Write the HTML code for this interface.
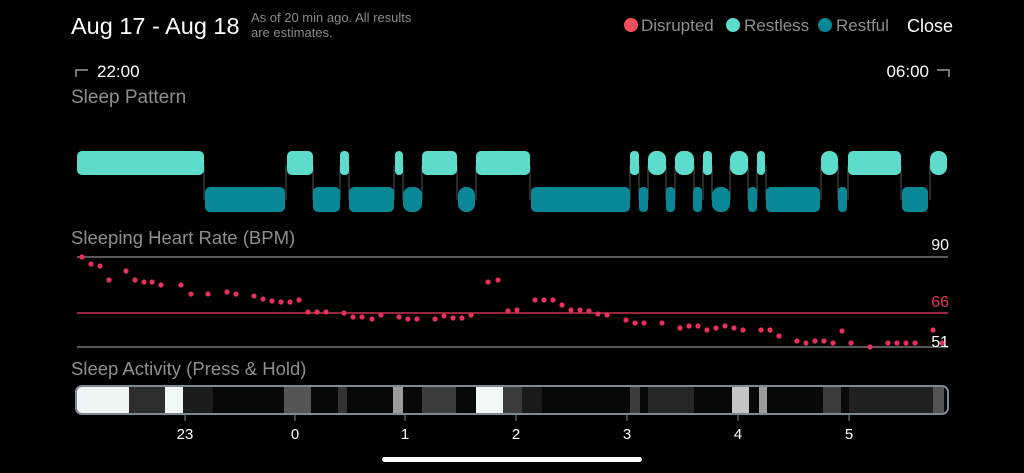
<!DOCTYPE html>
<html><head><meta charset="utf-8"><style>
html,body{margin:0;padding:0;background:#000;width:1024px;height:473px;overflow:hidden}
svg{display:block}
text{font-family:"Liberation Sans",sans-serif}
</style></head><body>
<svg width="1024" height="473" viewBox="0 0 1024 473" xmlns="http://www.w3.org/2000/svg">
<text x="71" y="34" font-size="23.5" fill="#fff">Aug 17 - Aug 18</text>
<text x="251" y="22" font-size="13" fill="#8a8a8a">As of 20 min ago. All results</text>
<text x="251" y="37" font-size="13" fill="#8a8a8a">are estimates.</text>
<circle cx="631" cy="25" r="7" fill="#f24d5a"/><text x="641" y="31" font-size="17" fill="#8e8e8e">Disrupted</text>
<circle cx="733" cy="25" r="7" fill="#5ddccb"/><text x="744" y="31" font-size="17" fill="#8e8e8e">Restless</text>
<circle cx="825" cy="25" r="7" fill="#0a8796"/><text x="836" y="31" font-size="17" fill="#8e8e8e">Restful</text>
<text x="907" y="32" font-size="18" fill="#fff">Close</text>
<path d="M76 77V70H88" stroke="#999" stroke-width="1.5" fill="none"/>
<text x="97" y="77" font-size="17" fill="#fff">22:00</text>
<text x="929" y="77" font-size="17" fill="#fff" text-anchor="end">06:00</text>
<path d="M937 70H949V77" stroke="#999" stroke-width="1.5" fill="none"/>
<text x="71" y="103" font-size="19" fill="#8e8e8e">Sleep Pattern</text>
<g stroke="#555" stroke-width="1">
<path d="M204 165V200M286 165V200M313 165V200M340 165V200M349 165V200M394 165V200M403 165V200M422 165V200M457 165V200M476 165V200M530 165V200M630 165V200M639 165V200M648 165V200M666 165V200M675 165V200M694 165V200M703 165V200M712 165V200M730 165V200M748 165V200M757 165V200M766 165V200M821 165V200M838 165V200M848 165V200M901 165V200M930 165V200"/>
</g>
<g fill="#5ddccb">
<rect x="77" y="151" width="127" height="24" rx="5"/><rect x="287" y="151" width="26" height="24" rx="5"/>
<rect x="340" y="151" width="9" height="24" rx="4"/><rect x="395" y="151" width="8" height="24" rx="4"/>
<rect x="422" y="151" width="35" height="24" rx="5"/><rect x="476" y="151" width="54" height="24" rx="5"/>
<rect x="630" y="151" width="9" height="24" rx="4"/><rect x="648" y="151" width="18" height="24" rx="8"/>
<rect x="675" y="151" width="19" height="24" rx="8"/><rect x="703" y="151" width="9" height="24" rx="4"/>
<rect x="730" y="151" width="18" height="24" rx="8"/><rect x="757" y="151" width="8" height="24" rx="4"/>
<rect x="821" y="151" width="17" height="24" rx="8"/><rect x="848" y="151" width="53" height="24" rx="5"/>
<rect x="930" y="151" width="17" height="24" rx="8"/>
</g>
<g fill="#0a8796">
<rect x="205" y="187" width="80" height="25" rx="5"/><rect x="313" y="187" width="27" height="25" rx="5"/>
<rect x="349" y="187" width="45" height="25" rx="5"/><rect x="403" y="187" width="19" height="25" rx="8"/>
<rect x="458" y="187" width="17" height="25" rx="8"/><rect x="531" y="187" width="99" height="25" rx="5"/>
<rect x="639" y="187" width="9" height="25" rx="4"/><rect x="666" y="187" width="9" height="25" rx="4"/>
<rect x="693" y="187" width="9" height="25" rx="4"/><rect x="712" y="187" width="18" height="25" rx="8"/>
<rect x="748" y="187" width="9" height="25" rx="4"/><rect x="766" y="187" width="54" height="25" rx="5"/>
<rect x="838" y="187" width="9" height="25" rx="4"/><rect x="902" y="187" width="26" height="25" rx="5"/>
</g>
<text x="71" y="244" font-size="18.5" fill="#8e8e8e">Sleeping Heart Rate (BPM)</text>
<text x="949" y="250" font-size="16" fill="#fff" text-anchor="end">90</text>
<text x="949" y="307" font-size="16" fill="#e8315a" text-anchor="end">66</text>
<line x1="77" y1="257" x2="948" y2="257" stroke="#777" stroke-width="1.5"/>
<line x1="77" y1="313" x2="948" y2="313" stroke="#c8324f" stroke-width="1.5"/>
<line x1="77" y1="347" x2="948" y2="347" stroke="#777" stroke-width="1.5"/>
<text x="949" y="347" font-size="16" fill="#fff" text-anchor="end">51</text>
<g fill="#e8315a">
<circle cx="82" cy="257" r="2.6"/><circle cx="91" cy="264" r="2.6"/><circle cx="100" cy="266" r="2.6"/><circle cx="109" cy="280" r="2.6"/><circle cx="126" cy="271" r="2.6"/><circle cx="135" cy="280" r="2.6"/><circle cx="144" cy="282" r="2.6"/><circle cx="152" cy="282" r="2.6"/><circle cx="161" cy="285" r="2.6"/><circle cx="181" cy="285" r="2.6"/><circle cx="191" cy="294" r="2.6"/><circle cx="208" cy="294" r="2.6"/><circle cx="227" cy="292" r="2.6"/><circle cx="236" cy="294" r="2.6"/><circle cx="254" cy="296" r="2.6"/><circle cx="263" cy="299" r="2.6"/><circle cx="272" cy="301" r="2.6"/><circle cx="281" cy="302" r="2.6"/><circle cx="290" cy="302" r="2.6"/><circle cx="299" cy="300" r="2.6"/><circle cx="308" cy="312" r="2.6"/><circle cx="317" cy="312" r="2.6"/><circle cx="326" cy="312" r="2.6"/><circle cx="344" cy="313" r="2.6"/><circle cx="353" cy="317" r="2.6"/><circle cx="362" cy="317" r="2.6"/><circle cx="372" cy="319" r="2.6"/><circle cx="381" cy="315" r="2.6"/><circle cx="399" cy="317" r="2.6"/><circle cx="408" cy="319" r="2.6"/><circle cx="417" cy="319" r="2.6"/><circle cx="435" cy="319" r="2.6"/><circle cx="444" cy="316" r="2.6"/><circle cx="453" cy="318" r="2.6"/><circle cx="462" cy="318" r="2.6"/><circle cx="471" cy="315" r="2.6"/><circle cx="488" cy="282" r="2.6"/><circle cx="498" cy="280" r="2.6"/><circle cx="508" cy="311" r="2.6"/><circle cx="517" cy="310" r="2.6"/><circle cx="535" cy="300" r="2.6"/><circle cx="544" cy="300" r="2.6"/><circle cx="553" cy="300" r="2.6"/><circle cx="562" cy="305" r="2.6"/><circle cx="571" cy="310" r="2.6"/><circle cx="580" cy="310" r="2.6"/><circle cx="589" cy="311" r="2.6"/><circle cx="598" cy="314" r="2.6"/><circle cx="607" cy="315" r="2.6"/><circle cx="626" cy="320" r="2.6"/><circle cx="635" cy="323" r="2.6"/><circle cx="644" cy="323" r="2.6"/><circle cx="662" cy="323" r="2.6"/><circle cx="680" cy="328" r="2.6"/><circle cx="689" cy="326" r="2.6"/><circle cx="698" cy="326" r="2.6"/><circle cx="707" cy="330" r="2.6"/><circle cx="716" cy="328" r="2.6"/><circle cx="725" cy="326" r="2.6"/><circle cx="734" cy="328" r="2.6"/><circle cx="743" cy="330" r="2.6"/><circle cx="761" cy="330" r="2.6"/><circle cx="770" cy="330" r="2.6"/><circle cx="779" cy="336" r="2.6"/><circle cx="797" cy="341" r="2.6"/><circle cx="806" cy="343" r="2.6"/><circle cx="815" cy="341" r="2.6"/><circle cx="824" cy="341" r="2.6"/><circle cx="833" cy="343" r="2.6"/><circle cx="842" cy="331" r="2.6"/><circle cx="851" cy="343" r="2.6"/><circle cx="870" cy="347" r="2.6"/><circle cx="888" cy="343" r="2.6"/><circle cx="897" cy="343" r="2.6"/><circle cx="906" cy="343" r="2.6"/><circle cx="915" cy="343" r="2.6"/><circle cx="933" cy="330" r="2.6"/><circle cx="942" cy="343" r="2.6"/>
</g>
<text x="71" y="375" font-size="18.5" fill="#8e8e8e">Sleep Activity (Press &amp; Hold)</text>
<clipPath id="c"><rect x="76" y="386" width="872" height="28" rx="6"/></clipPath>
<g clip-path="url(#c)">
<rect x="76" y="386" width="872" height="28" fill="#080808"/>
<rect x="76" y="386" width="53" height="28" fill="#eef5f5"/>
<rect x="129" y="386" width="36" height="28" fill="#2e2e2e"/>
<rect x="165" y="386" width="18" height="28" fill="#f2f7f7"/>
<rect x="183" y="386" width="30" height="28" fill="#1c1c1c"/>
<rect x="284" y="386" width="27" height="28" fill="#555"/>
<rect x="338" y="386" width="9" height="28" fill="#333"/>
<rect x="393" y="386" width="10" height="28" fill="#9a9a9a"/>
<rect x="422" y="386" width="34" height="28" fill="#3c3c3c"/>
<rect x="476" y="386" width="27" height="28" fill="#f2f7f7"/>
<rect x="503" y="386" width="19" height="28" fill="#3c3c3c"/>
<rect x="522" y="386" width="20" height="28" fill="#1a1a1a"/>
<rect x="630" y="386" width="10" height="28" fill="#3c3c3c"/>
<rect x="648" y="386" width="46" height="28" fill="#262626"/>
<rect x="732" y="386" width="17" height="28" fill="#c4c4c4"/>
<rect x="759" y="386" width="8" height="28" fill="#9a9a9a"/>
<rect x="823" y="386" width="18" height="28" fill="#3c3c3c"/>
<rect x="849" y="386" width="84" height="28" fill="#202020"/>
<rect x="933" y="386" width="11" height="28" fill="#555"/>
</g>
<rect x="76" y="386" width="872" height="28" rx="6" fill="none" stroke="#7d8a96" stroke-width="2"/>
<g stroke="#888" stroke-width="1"><path d="M185 414V421M295 414V421M405 414V421M516 414V421M627 414V421M738 414V421M849 414V421"/></g>
<g font-size="15" fill="#fff" text-anchor="middle">
<text x="185" y="439">23</text><text x="295" y="439">0</text><text x="405" y="439">1</text><text x="516" y="439">2</text><text x="627" y="439">3</text><text x="738" y="439">4</text><text x="849" y="439">5</text>
</g>
<rect x="382" y="457" width="260" height="5" rx="2.5" fill="#fff"/>
</svg>
</body></html>
